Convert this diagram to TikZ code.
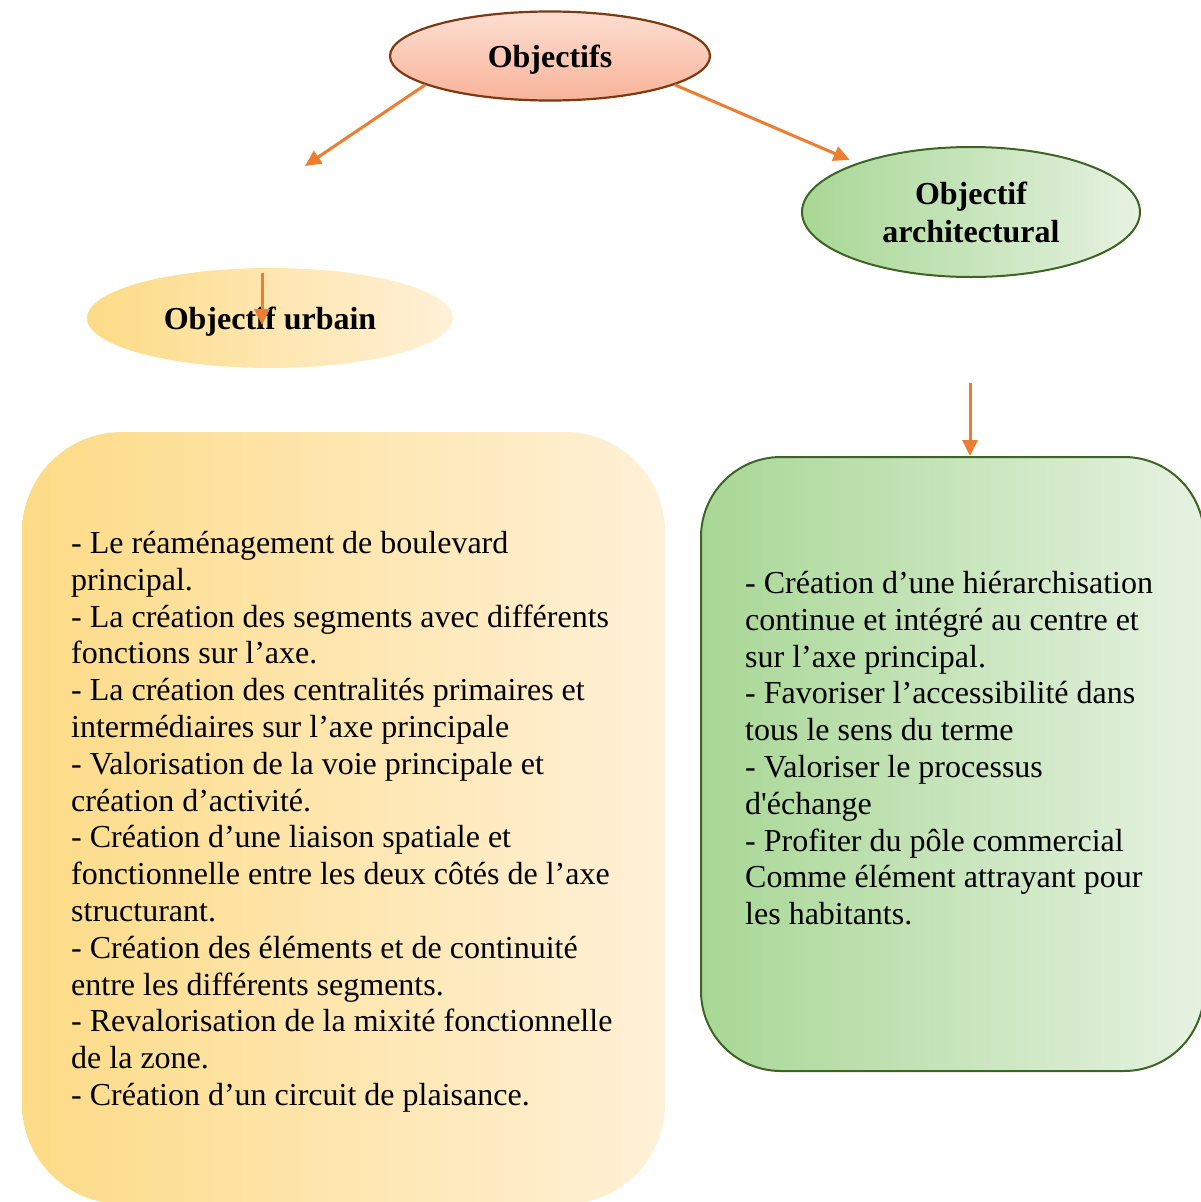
\documentclass[tikz,border=0pt]{standalone}
\usepackage{fontspec}
\setmainfont{Liberation Serif}
\usetikzlibrary{arrows.meta,positioning,shapes.geometric}
\definecolor{obarrow}{HTML}{ED7D31}
\definecolor{obbrown}{HTML}{7B3A10}
\definecolor{obpeachtop}{HTML}{FDDED2}
\definecolor{obpeachbot}{HTML}{F8B39A}
\definecolor{obyellowL}{HTML}{FDDB86}
\definecolor{obyellowR}{HTML}{FFF1D8}
\definecolor{obgreenL}{HTML}{A8D795}
\definecolor{obgreenR}{HTML}{E6F2E1}
\definecolor{obgreendk}{HTML}{3D6424}

\begin{document}
\begin{tikzpicture}[x=1pt,y=-1pt,>={Triangle[length=16pt,width=15pt]},
 title/.style={ellipse,font=\fontsize{32}{38}\selectfont\bfseries,align=center,inner sep=0pt},
 panel/.style={rectangle,inner sep=0pt},
 body/.style={anchor=north west,align=left,font=\fontsize{32}{36.8}\selectfont,inner sep=0pt},
 link/.style={->,draw=obarrow,line width=3pt}]
\useasboundingbox (0,0) rectangle (1201,1202);
% titles
\node[title,text depth=0pt,draw=obbrown,line width=2.2pt,top color=obpeachtop,bottom color=obpeachbot,
 minimum width=320pt,minimum height=89pt](ob) at (550,56){Objectifs};
\node[title,text depth=0pt,left color=obyellowL,right color=obyellowR,
 minimum width=366pt,minimum height=100pt](urb) at (270,318){Objectif urbain};
\node[title,draw=obgreendk,line width=2pt,left color=obgreenL,right color=obgreenR,
 minimum width=338pt,minimum height=130pt](arch) at (971,212){Objectif\\architectural};
% panels
\node[panel,rounded corners=100pt,left color=obyellowL,right color=obyellowR,
 minimum width=643pt,minimum height=772pt](urbbox) at (343.5,818){};
\node[panel,rounded corners=80pt,draw=obgreendk,line width=2pt,left color=obgreenL,right color=obgreenR,
 minimum width=503pt,minimum height=614pt](archbox) at (952.5,764){};
\node[body](urbtext) at (71,531){- Le réaménagement de boulevard\\
principal.\\
- La création des segments avec différents\\
fonctions sur l’axe.\\
- La création des centralités primaires et\\
intermédiaires sur l’axe principale\\
- Valorisation de la voie principale et\\
création d’activité.\\
- Création d’une liaison spatiale et\\
fonctionnelle entre les deux côtés de l’axe\\
structurant.\\
- Création des éléments et de continuité\\
entre les différents segments.\\
- Revalorisation de la mixité fonctionnelle\\
de la zone.\\
- Création d’un circuit de plaisance.};
\node[body](archtext) at (745,571){- Création d’une hiérarchisation\\
continue et intégré au centre et\\
sur l’axe principal.\\
- Favoriser l’accessibilité dans\\
tous le sens du terme\\
- Valoriser le processus\\
d\textquotesingle échange\\
- Profiter du pôle commercial\\
Comme élément attrayant pour\\
les habitants.};
% arrows
\coordinate(urbtip) at (305,166);
\coordinate(urbin) at (262,273);
\coordinate(archin) at (970,383);
\draw[link](ob.193)--(urbtip);
\draw[link,shorten >=8pt](ob.-13)--(arch);
\draw[link](urbin)--++(0,52);
\draw[link](archin)--(archin |- archbox.north);
\end{tikzpicture}
\end{document}
